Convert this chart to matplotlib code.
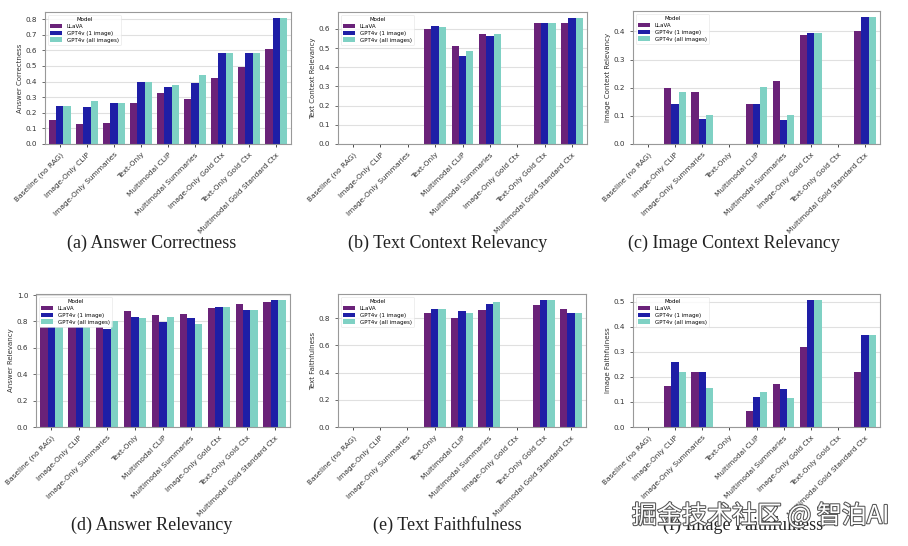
import numpy as np
import matplotlib
matplotlib.use("Agg")
import matplotlib.pyplot as plt
import matplotlib.patheffects as pe

categories = ["Baseline (no RAG)", "Image-Only CLIP", "Image-Only Summaries", "Text-Only",
              "Multimodal CLIP", "Multimodal Summaries", "Image-Only Gold Ctx",
              "Text-Only Gold Ctx", "Multimodal Gold Standard Ctx"]
models = ["LLaVA", "GPT4v (1 image)", "GPT4v (all images)"]

answer_correctness_llava = [0.155, 0.125, 0.135, 0.265, 0.325, 0.285, 0.42, 0.495, 0.61]
answer_correctness_gpt1 = [0.245, 0.235, 0.26, 0.40, 0.365, 0.39, 0.58, 0.58, 0.805]
answer_correctness_gptall = [0.245, 0.275, 0.265, 0.40, 0.38, 0.445, 0.58, 0.58, 0.805]

text_ctx_rel_llava = [0, 0, 0, 0.597, 0.51, 0.575, 0, 0.632, 0.628]
text_ctx_rel_gpt1 = [0, 0, 0, 0.613, 0.46, 0.565, 0, 0.628, 0.655]
text_ctx_rel_gptall = [0, 0, 0, 0.611, 0.485, 0.575, 0, 0.628, 0.655]

image_ctx_rel_llava = [0, 0.198, 0.183, 0, 0.143, 0.225, 0.388, 0, 0.403]
image_ctx_rel_gpt1 = [0, 0.143, 0.088, 0, 0.143, 0.085, 0.395, 0, 0.45]
image_ctx_rel_gptall = [0, 0.183, 0.103, 0, 0.203, 0.103, 0.395, 0, 0.45]

answer_rel_llava = [0.76, 0.76, 0.755, 0.88, 0.85, 0.855, 0.905, 0.935, 0.945]
answer_rel_gpt1 = [0.76, 0.76, 0.745, 0.83, 0.795, 0.825, 0.91, 0.885, 0.96]
answer_rel_gptall = [0.76, 0.755, 0.80, 0.825, 0.835, 0.78, 0.91, 0.885, 0.96]

text_faith_llava = [0, 0, 0, 0.835, 0.80, 0.86, 0, 0.895, 0.865]
text_faith_gpt1 = [0, 0, 0, 0.865, 0.85, 0.905, 0, 0.93, 0.835]
text_faith_gptall = [0, 0, 0, 0.865, 0.835, 0.92, 0, 0.93, 0.835]

image_faith_llava = [0, 0.165, 0.22, 0, 0.065, 0.17, 0.32, 0, 0.22]
image_faith_gpt1 = [0, 0.26, 0.22, 0, 0.12, 0.15, 0.505, 0, 0.365]
image_faith_gptall = [0, 0.22, 0.155, 0, 0.138, 0.115, 0.505, 0, 0.365]

panels = [
    ("Answer Correctness", "(a) Answer Correctness",
     [answer_correctness_llava, answer_correctness_gpt1, answer_correctness_gptall]),
    ("Text Context Relevancy", "(b) Text Context Relevancy",
     [text_ctx_rel_llava, text_ctx_rel_gpt1, text_ctx_rel_gptall]),
    ("Image Context Relevancy", "(c) Image Context Relevancy",
     [image_ctx_rel_llava, image_ctx_rel_gpt1, image_ctx_rel_gptall]),
    ("Answer Relevancy", "(d) Answer Relevancy",
     [answer_rel_llava, answer_rel_gpt1, answer_rel_gptall]),
    ("Text Faithfulness", "(e) Text Faithfulness",
     [text_faith_llava, text_faith_gpt1, text_faith_gptall]),
    ("Image Faithfulness", "(f) Image Faithfulness",
     [image_faith_llava, image_faith_gpt1, image_faith_gptall]),
]

colors = ["#6a2279", "#1e1ea6", "#7fd1c4"]

W, H = 908, 546
fig = plt.figure(figsize=(W / 100, H / 100), dpi=100)

# pixel boxes: left, top, right, bottom
boxes = [
    (45, 12, 291, 144),
    (338, 12, 587, 144),
    (633, 11, 880, 144),
    (36, 294, 290, 427),
    (338, 294, 586, 427),
    (633, 294, 880, 427),
]
caption_pos = [(152, 243), (448, 243), (734, 243), (152, 525), (447, 525), (743, 525)]

x = np.arange(len(categories))
bw = 0.8 / 3
for (ylabel, caption, series), (l, t, r, b), (cx, cy) in zip(panels, boxes, caption_pos):
    ax = fig.add_axes([l / W, 1 - b / H, (r - l) / W, (b - t) / H])
    for i, (vals, c, m) in enumerate(zip(series, colors, models)):
        ax.bar(x + (i - 1) * bw, vals, width=bw, color=c, label=m, zorder=2)
    ax.set_xticks(x)
    ax.set_xticklabels(categories, rotation=45, ha="right", rotation_mode="anchor",
                       fontsize=5.3, color="#333333")
    ax.tick_params(axis="y", labelsize=5.2, colors="#333333", length=2, width=0.5)
    ax.tick_params(axis="x", length=2, width=0.5)
    ax.set_ylabel(ylabel, fontsize=5, color="#333333", labelpad=2)
    ax.grid(axis="y", color="#e0e0e0", linewidth=0.8, zorder=0)
    ax.set_axisbelow(True)
    for s in ax.spines.values():
        s.set_color("#999999")
        s.set_linewidth(0.8)
    ax.set_xlim(-0.55, len(categories) - 0.45)
    leg = ax.legend(title="Model", loc="upper left", fontsize=4, title_fontsize=4,
                    frameon=True, framealpha=0.8, edgecolor="#dddddd",
                    handlelength=2.2, handleheight=0.9, borderpad=0.4, labelspacing=0.3)
    leg.get_frame().set_linewidth(0.4)
    fig.text(cx / W, 1 - cy / H, caption, ha="center", va="center",
             fontsize=13, family="Liberation Serif", color="#222222")

fig.text(632 / W, 1 - 516 / H, "掘金技术社区 @ 智泊AI", ha="left", va="center",
         fontsize=18, family=["Noto Sans CJK SC", "DejaVu Sans"], color="white",
         path_effects=[pe.withStroke(linewidth=1.5, foreground="#555555")])

fig.savefig("out.png", dpi=100)
